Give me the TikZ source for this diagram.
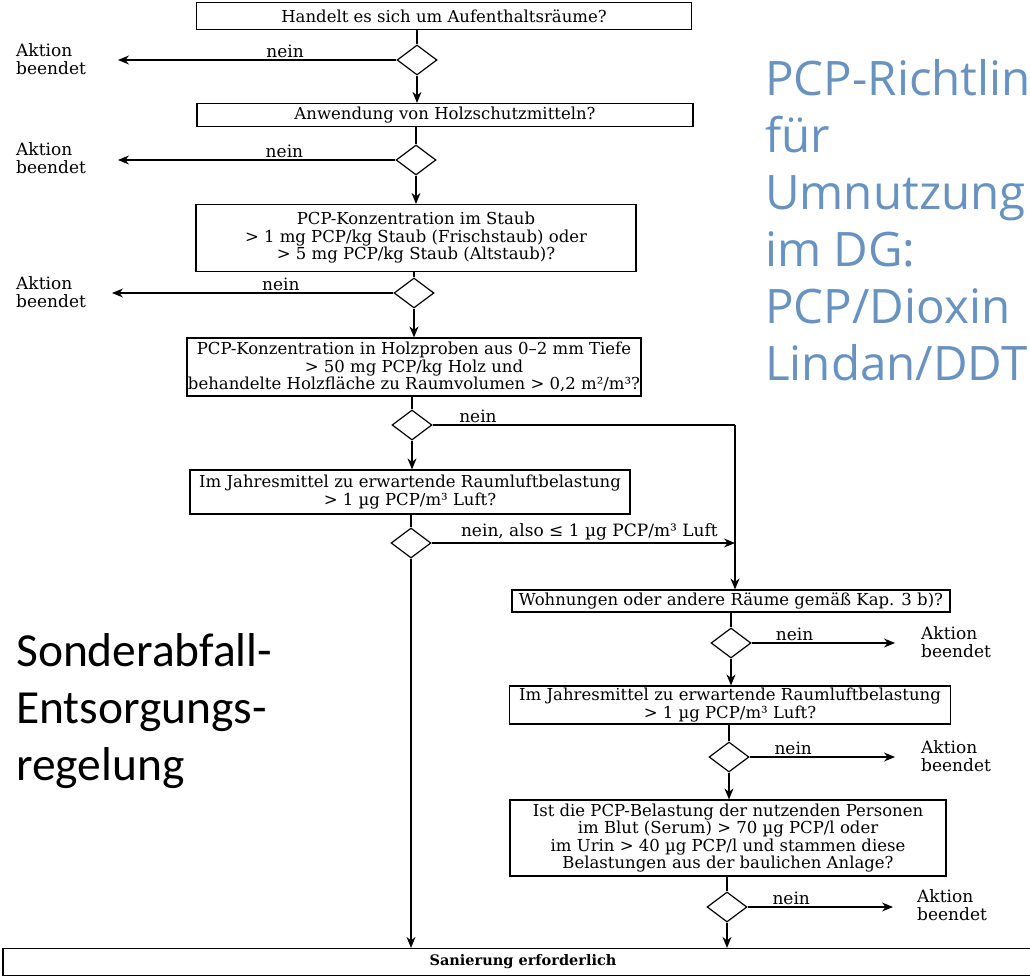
\documentclass[tikz,border=0pt]{standalone}
\usepackage{fontspec}
\setmainfont{DejaVu Serif}
\newfontfamily\titlefont{Open Sans}
\newfontfamily\notefont{Carlito}
\usetikzlibrary{arrows.meta,shapes.geometric}
\definecolor{titleblue}{RGB}{104,146,192}
\tikzset{
    question/.style={rectangle,draw,line width=1.2pt,align=center,inner sep=1pt,font=\fontsize{16.5}{17.5}\selectfont},
    decision/.style={diamond,draw,line width=1.2pt,minimum width=40,minimum height=30,inner sep=0pt},
    answer/.style={font=\fontsize{17}{18}\selectfont,inner sep=2pt},
    stopnote/.style={align=left,font=\fontsize{17}{18}\selectfont,inner sep=0pt},
    flow/.style={line width=1.2pt},
    directed/.style={flow,arrows={-Stealth[length=11pt,width=9pt]}},
}

\begin{document}
\begin{tikzpicture}[x=1pt,y=-1pt]
    \useasboundingbox (0,0) rectangle (1030,976);

    % left column
    \node[question,minimum width=495,minimum height=27] (q1) at (444,16) {Handelt es sich um Aufenthaltsräume?};
    \node[decision] (d1) at (417,60) {};
    \node[question,minimum width=496,minimum height=23] (q2) at (445,115) {Anwendung von Holzschutzmitteln?};
    \node[decision] (d2) at (416,160) {};
    \node[question,minimum width=440,minimum height=67] (q3) at (416,238) {PCP-Konzentration im Staub\\> 1 mg PCP/kg Staub (Frischstaub) oder\\> 5 mg PCP/kg Staub (Altstaub)?};
    \node[decision] (d3) at (414,293) {};
    \node[question,minimum width=448,minimum height=58] (q4) at (414,367) {PCP-Konzentration in Holzproben aus 0–2 mm Tiefe\\> 50 mg PCP/kg Holz und\\behandelte Holzfläche zu Raumvolumen > 0,2 m²/m³?};
    \node[decision] (d4) at (412,425) {};
    \node[question,minimum width=440,minimum height=44] (q5) at (410,492) {Im Jahresmittel zu erwartende Raumluftbelastung\\> 1 µg PCP/m³ Luft?};
    \node[decision] (d5) at (411,543) {};

    % right column
    \node[question,minimum width=438,minimum height=22] (q6) at (731,601) {Wohnungen oder andere Räume gemäß Kap. 3 b)?};
    \node[decision] (d6) at (731,643) {};
    \node[question,minimum width=441,minimum height=38] (q7) at (730,705) {Im Jahresmittel zu erwartende Raumluftbelastung\\> 1 µg PCP/m³ Luft?};
    \node[decision] (d7) at (729,757) {};
    \node[question,minimum width=436,minimum height=76] (q8) at (728,838) {Ist die PCP-Belastung der nutzenden Personen\\im Blut (Serum) > 70 µg PCP/l oder\\im Urin > 40 µg PCP/l und stammen diese\\Belastungen aus der baulichen Anlage?};
    \node[decision] (d8) at (727,907) {};

    \node[question,minimum width=1040,minimum height=27,font=\fontsize{14.5}{15}\selectfont\bfseries] (fin) at (523,962) {Sanierung erforderlich};

    % Aktion beendet
    \node[stopnote,anchor=west] (a1) at (16,59) {Aktion\\beendet};
    \node[stopnote,anchor=west] (a2) at (16,158) {Aktion\\beendet};
    \node[stopnote,anchor=west] (a3) at (16,292) {Aktion\\beendet};
    \node[stopnote,anchor=west] (a6) at (921,642) {Aktion\\beendet};
    \node[stopnote,anchor=west] (a7) at (921,756) {Aktion\\beendet};
    \node[stopnote,anchor=west] (a8) at (917,905) {Aktion\\beendet};

    \coordinate (e1) at (118,60);
    \coordinate (e2) at (118,160);
    \coordinate (e3) at (112,293);
    \coordinate (e6) at (895,643);
    \coordinate (e7) at (895,757);
    \coordinate (e8) at (893,907);
    \coordinate (j1) at (735,425);

    % side texts
    \node[anchor=north west,align=left,inner sep=0pt,text=titleblue,font=\titlefont\fontsize{47.5}{57}\selectfont] (title) at (765,59) {PCP-Richtlinie\\für\\Umnutzung\\im DG:\\PCP/Dioxin\\Lindan/DDT};
    \node[anchor=north west,align=left,inner sep=0pt,font=\notefont\fontsize{47.5}{57}\selectfont] (waste) at (16,633) {Sonderabfall-\\Entsorgungs-\\regelung};

    \draw[flow] (q1.south -| d1) -- (d1.north);
    \draw[directed] (d1.south) -- (d1 |- q2.north);
    \draw[flow] (q2.south -| d2) -- (d2.north);
    \draw[directed] (d2.south) -- (d2 |- q3.north);
    \draw[flow] (q3.south -| d3) -- (d3.north);
    \draw[directed] (d3.south) -- (d3 |- q4.north);
    \draw[flow] (q4.south -| d4) -- (d4.north);
    \draw[directed] (d4.south) -- (d4 |- q5.north);
    \draw[flow] (q5.south -| d5) -- (d5.north);
    \draw[directed] (d5.south) -- (d5 |- fin.north);

    \draw[flow] (q6.south -| d6) -- (d6.north);
    \draw[directed] (d6.south) -- (d6 |- q7.north);
    \draw[flow] (q7.south -| d7) -- (d7.north);
    \draw[directed] (d7.south) -- (d7 |- q8.north);
    \draw[flow] (q8.south -| d8) -- (d8.north);
    \draw[directed] (d8.south) -- (d8 |- fin.north);

    \draw[directed] (d1.west) -- node[answer,above,pos=0.4] {nein} (e1);
    \draw[directed] (d2.west) -- node[answer,above,pos=0.4] {nein} (e2);
    \draw[directed] (d3.west) -- node[answer,above,pos=0.4] {nein} (e3);
    \draw[flow] (d4.east) -- node[answer,above,pos=0.15] {nein} (j1);
    \draw[directed] (j1) -- (j1 |- q6.north);
    \draw[directed] (d5.east) -- node[answer,above,pos=0.52] {nein, also ≤ 1 µg PCP/m³ Luft} (d5 -| j1);
    \draw[directed] (d6.east) -- node[answer,above,pos=0.3] {nein} (e6);
    \draw[directed] (d7.east) -- node[answer,above,pos=0.3] {nein} (e7);
    \draw[directed] (d8.east) -- node[answer,above,pos=0.3] {nein} (e8);
\end{tikzpicture}
\end{document}
